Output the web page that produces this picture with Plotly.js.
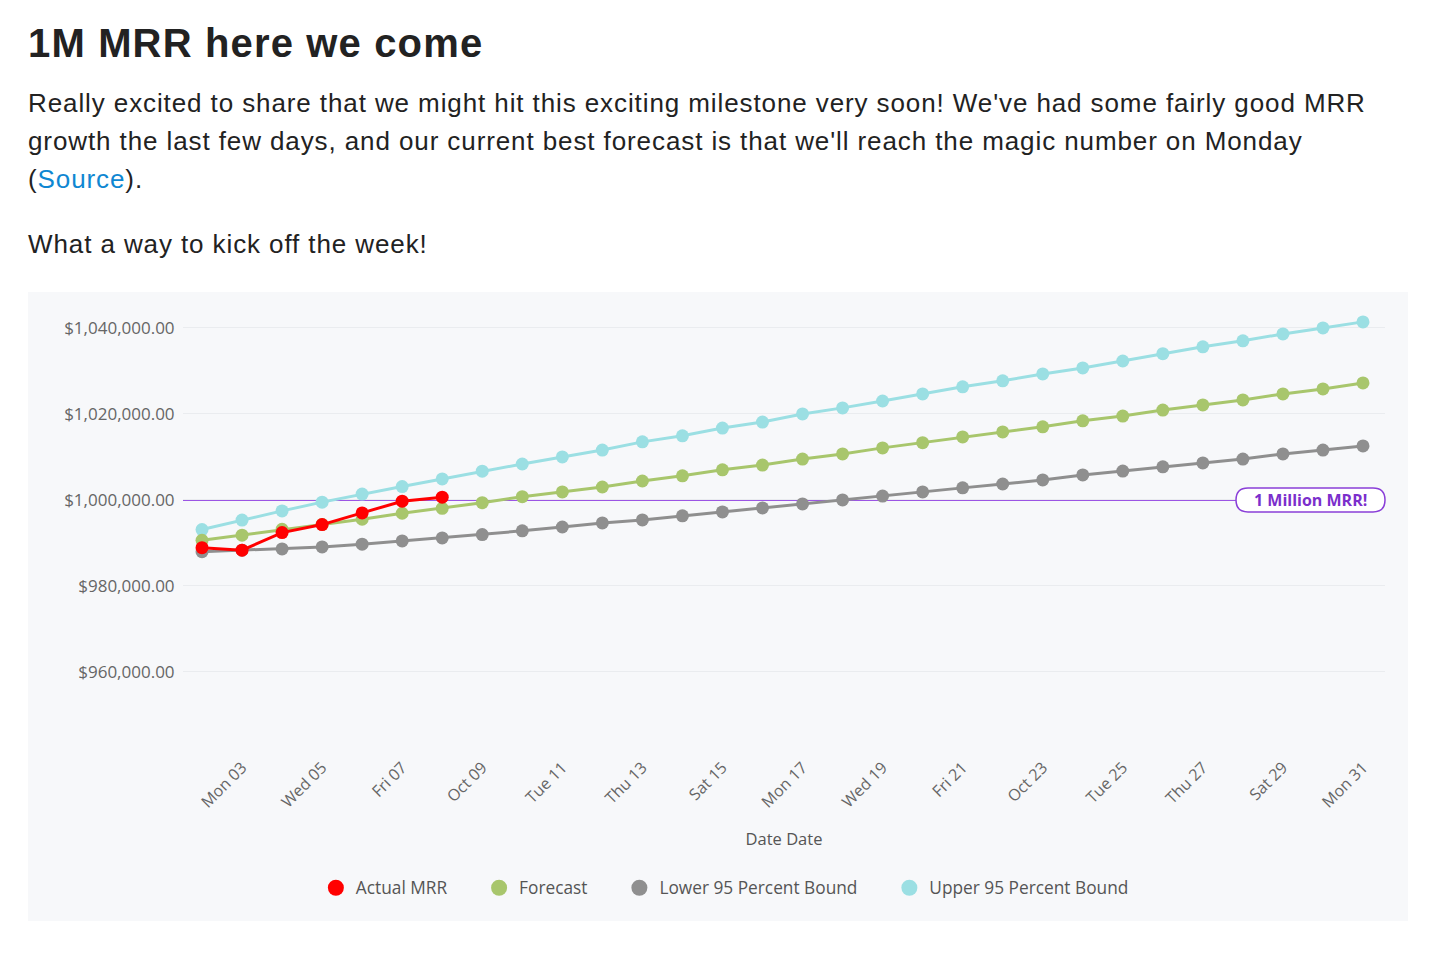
<!DOCTYPE html>
<html>
<head>
<meta charset="utf-8">
<script src="https://cdn.plot.ly/plotly-3.0.1.min.js"></script>
<style>
  html, body { margin: 0; padding: 0; background: #ffffff; }
  body { width: 1436px; height: 968px; position: relative; overflow: hidden;
         font-family: "Liberation Sans", Arial, Helvetica, sans-serif; color: #222; }
  h1 { position: absolute; left: 28px; top: 19px; margin: 0; font-size: 40px; font-weight: bold;
       line-height: 48px; color: #222; letter-spacing: 1.15px; }
  p { position: absolute; left: 28px; width: 1378px; margin: 0; font-size: 26px; line-height: 38px;
      color: #222; letter-spacing: 0.9px; }
  #p1 { top: 84px; }
  #p2 { top: 225px; }
  a { color: #0f87d2; text-decoration: none; }
  #chart { position: absolute; left: 28px; top: 292px; width: 1380px; height: 629px; }
</style>
</head>
<body>
<h1>1M MRR here we come</h1>
<p id="p1">Really excited to share that we might hit this exciting milestone very soon! We've had some fairly good MRR growth the last few days, and our current best forecast is that we'll reach the magic number on Monday (<a href="#">Source</a>).</p>
<p id="p2">What a way to kick off the week!</p>
<div id="chart"></div>
<script>
const dates = ["2016-10-02","2016-10-03","2016-10-04","2016-10-05","2016-10-06","2016-10-07","2016-10-08",
  "2016-10-09","2016-10-10","2016-10-11","2016-10-12","2016-10-13","2016-10-14","2016-10-15","2016-10-16",
  "2016-10-17","2016-10-18","2016-10-19","2016-10-20","2016-10-21","2016-10-22","2016-10-23","2016-10-24",
  "2016-10-25","2016-10-26","2016-10-27","2016-10-28","2016-10-29","2016-10-30","2016-10-31"];

const actualDates = ["2016-10-02","2016-10-03","2016-10-04","2016-10-05","2016-10-06","2016-10-07","2016-10-08"];
const actualMRR = [988900, 988300, 992400, 994260, 996980, 999700, 1000630];

const forecast = [990600, 991800, 993150, 994300, 995500, 996900, 998050, 999350, 1000750, 1001860,
  1003000, 1004400, 1005600, 1007000, 1008100, 1009500, 1010700, 1012100, 1013300, 1014650,
  1015800, 1017000, 1018400, 1019500, 1020900, 1022100, 1023250, 1024650, 1025800, 1027200];

const lower = [987950, 988300, 988600, 989070, 989700, 990460, 991160, 991930, 992800, 993700,
  994650, 995350, 996300, 997200, 998140, 999070, 1000000, 1000900, 1001860, 1002800,
  1003700, 1004650, 1005800, 1006700, 1007700, 1008600, 1009500, 1010700, 1011600, 1012560];

const upper = [993100, 995300, 997440, 999480, 1001350, 1003100, 1004880, 1006680, 1008350, 1010000,
  1011600, 1013500, 1014900, 1016700, 1018100, 1020000, 1021400, 1023000, 1024650, 1026300,
  1027700, 1029300, 1030700, 1032300, 1034000, 1035600, 1037000, 1038600, 1040000, 1041400];

const tickDates = ["2016-10-03","2016-10-05","2016-10-07","2016-10-09","2016-10-11","2016-10-13","2016-10-15",
  "2016-10-17","2016-10-19","2016-10-21","2016-10-23","2016-10-25","2016-10-27","2016-10-29","2016-10-31"];
const tickLabels = ["Mon 03","Wed 05","Fri 07","Oct 09","Tue 11","Thu 13","Sat 15",
  "Mon 17","Wed 19","Fri 21","Oct 23","Tue 25","Thu 27","Sat 29","Mon 31"];

const milestone = 1000000;
const milestoneLabel = "1 Million MRR!";
const seriesNames = ["Actual MRR", "Forecast", "Lower 95 Percent Bound", "Upper 95 Percent Bound"];
const colors = ["#ff0000", "#a8c66c", "#8f8f8f", "#9bdfe3"];

function lineTrace(x, y, i) {
  return { x: x, y: y, type: "scatter", mode: "lines+markers", name: seriesNames[i], showlegend: false,
    line: { color: colors[i], width: 3 }, marker: { color: colors[i], size: 13 }, hoverinfo: "x+y+name" };
}
const legendPad = "\u00a0\u00a0\u00a0\u00a0\u00a0\u00a0";
function legendTrace(i, last) {
  return { x: [null], y: [null], type: "scatter", mode: "markers", name: seriesNames[i] + (last ? "" : legendPad),
    marker: { color: colors[i], size: 16 }, hoverinfo: "skip" };
}

const data = [
  lineTrace(dates, upper, 3),
  lineTrace(dates, lower, 2),
  lineTrace(dates, forecast, 1),
  lineTrace(actualDates, actualMRR, 0),
  legendTrace(0), legendTrace(1), legendTrace(2), legendTrace(3, true)
];

const layout = {
  width: 1380, height: 629,
  paper_bgcolor: "#f7f8fa", plot_bgcolor: "#f7f8fa",
  margin: { l: 155, r: 23, t: 20, b: 176 },
  font: { family: "Open Sans, sans-serif", color: "#666" },
  showlegend: true,
  legend: { orientation: "h", x: 0.4508, xanchor: "center", yref: "container", y: 0.0525, yanchor: "middle",
    font: { size: 17.3, color: "#555" }, traceorder: "normal", bgcolor: "rgba(0,0,0,0)" },
  xaxis: {
    type: "date", range: ["2016-10-01 12:36", "2016-10-31 13:12"],
    tickmode: "array", tickvals: tickDates, ticktext: tickLabels, tickangle: -45,
    showgrid: false, zeroline: false, showline: false,
    ticks: "outside", ticklen: 6, tickcolor: "rgba(0,0,0,0)",
    tickfont: { size: 16, color: "#666" },
    title: { text: "Date Date", font: { size: 16.5, color: "#555" }, standoff: 22 }
  },
  yaxis: {
    range: [943000, 1043700], dtick: 20000, tick0: 0, tickformat: "$,.2f",
    showgrid: true, gridcolor: "#eaecef", gridwidth: 1, zeroline: false, showline: false,
    ticks: "outside", ticklen: 4, tickcolor: "rgba(0,0,0,0)",
    tickfont: { size: 17, color: "#666" }
  },
  shapes: [
    { type: "line", xref: "paper", x0: 0, x1: 1, yref: "y", y0: milestone, y1: milestone,
      line: { color: "#7d1fdc", width: 1.5 }, layer: "below" },
    { type: "path", xref: "paper", xsizemode: "pixel", xanchor: 1, yref: "y", ysizemode: "pixel", yanchor: milestone,
      path: "M -137,-12 L -12,-12 Q 0,-12 0,0 Q 0,12 -12,12 L -137,12 Q -149,12 -149,0 Q -149,-12 -137,-12 Z",
      fillcolor: "#ffffff", line: { color: "#8a3fd8", width: 1.5 }, layer: "above" }
  ],
  annotations: [{ xref: "paper", x: 1, xanchor: "center", xshift: -74.5, yref: "y", y: milestone, yanchor: "middle",
    text: "<b>" + milestoneLabel + "</b>", showarrow: false,
    font: { size: 16, color: "#7b2fcc", family: "Open Sans, sans-serif" } }]
};

Plotly.newPlot("chart", data, layout, { displayModeBar: false });
</script>
</body>
</html>
